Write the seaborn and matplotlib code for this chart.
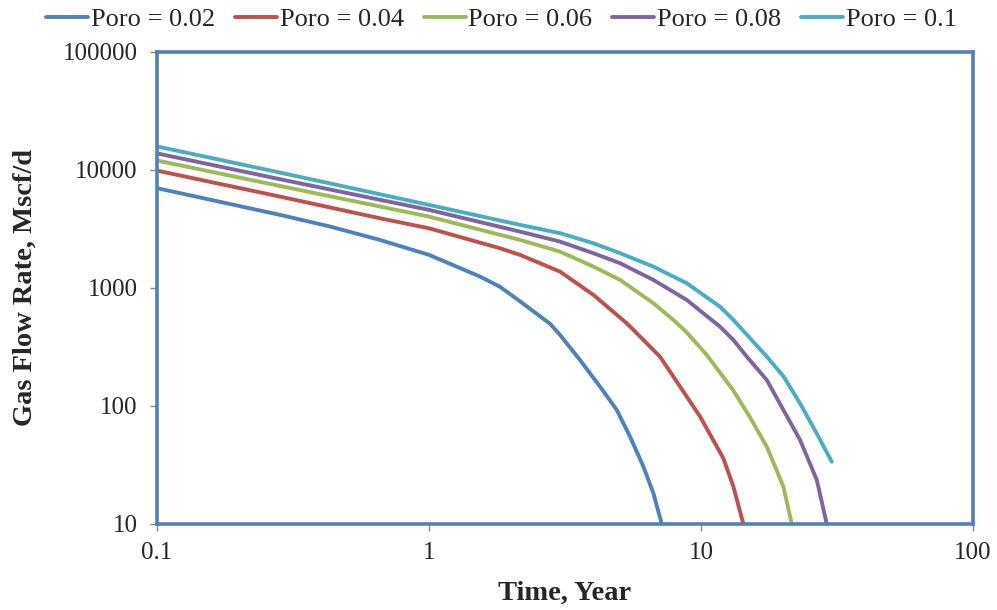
import numpy as np
import pandas as pd
import matplotlib
matplotlib.use("Agg")
import matplotlib.pyplot as plt
import seaborn as sns
from matplotlib.ticker import FixedLocator, FixedFormatter, NullLocator

# ---- data ----
labels = ["Poro = 0.02", "Poro = 0.04", "Poro = 0.06", "Poro = 0.08", "Poro = 0.1"]
colors = ["#4F81BD", "#C0504D", "#9BBB59", "#8064A2", "#4BACC6"]

t_02 = [0.1, 0.283, 0.433, 0.66, 1.0, 1.54, 1.82, 2.16, 2.79, 3.03, 3.59, 4.25, 4.90, 5.48, 6.14, 6.68, 7.17]
q_02 = [7000, 4160, 3310, 2550, 1905, 1247, 1025, 770, 495, 400, 245, 146, 92.5, 55, 30.6, 18.2, 10]

t_04 = [0.1, 0.283, 0.66, 1.0, 1.82, 2.16, 3.03, 4.02, 5.33, 5.64, 7.06, 8.37, 9.92, 12.08, 13.15, 14.31]
q_04 = [9860, 5940, 3890, 3200, 2170, 1905, 1374, 873, 502, 441, 262, 146, 81.2, 36, 20.7, 10]

t_06 = [0.1, 0.283, 1.0, 2.16, 3.03, 4.02, 5.04, 6.68, 7.91, 8.86, 10.5, 13.15, 15.14, 17.44, 20.08, 21.56]
q_06 = [12000, 7310, 4020, 2550, 2030, 1517, 1169, 742, 536, 420, 270, 135, 80, 45.2, 20.7, 10]

t_08 = [0.1, 0.283, 1.0, 2.16, 3.03, 4.02, 5.04, 6.68, 8.86, 11.74, 13.15, 14.72, 17.44, 23.12, 26.64, 28.98]
q_08 = [13800, 8340, 4580, 3000, 2470, 1968, 1620, 1169, 791, 470, 362, 262, 166, 51.5, 23.6, 10]

t_10 = [0.1, 0.283, 1.0, 2.16, 3.03, 4.02, 5.04, 6.68, 8.86, 11.74, 13.15, 17.44, 20.1, 23.12, 26.6, 30.23]
q_10 = [15800, 9490, 5050, 3420, 2910, 2390, 1968, 1515, 1096, 694, 536, 262, 178, 105, 58.7, 33.7]

series_t = [t_02, t_04, t_06, t_08, t_10]
series_q = [q_02, q_04, q_06, q_08, q_10]

frames = []
for lab, tt, qq in zip(labels, series_t, series_q):
    frames.append(pd.DataFrame({"Time": tt, "Rate": qq, "Series": lab}))
df = pd.concat(frames, ignore_index=True)

xticks = [0.1, 1, 10, 100]
xtick_labels = ["0.1", "1", "10", "100"]
yticks = [10, 100, 1000, 10000, 100000]
ytick_labels = ["10", "100", "1000", "10000", "100000"]

# ---- styling ----
sns.set_style("white")
plt.rcParams["font.family"] = ["Liberation Serif", "DejaVu Serif"]

fig = plt.figure(figsize=(9.97, 6.10), dpi=100)
ax = fig.add_axes([0.1575, 0.141, 0.8185, 0.774])

sns.lineplot(data=df, x="Time", y="Rate", hue="Series", hue_order=labels,
             palette=colors, linewidth=2.8, sort=False, estimator=None,
             ax=ax, legend=False)

ax.set_xscale("log")
ax.set_yscale("log")
ax.set_xlim(0.1, 100)
ax.set_ylim(10, 100000)

ax.xaxis.set_major_locator(FixedLocator(xticks))
ax.xaxis.set_major_formatter(FixedFormatter(xtick_labels))
ax.yaxis.set_major_locator(FixedLocator(yticks))
ax.yaxis.set_major_formatter(FixedFormatter(ytick_labels))
ax.xaxis.set_minor_locator(NullLocator())
ax.yaxis.set_minor_locator(NullLocator())

ax.tick_params(axis="both", which="major", direction="out", length=5, width=1,
               color="#868686", labelsize=18, bottom=True, left=True)
ax.tick_params(axis="x", pad=8)
ax.tick_params(axis="y", pad=9)

for s in ax.spines.values():
    s.set_visible(True)
    s.set_color("#4F81BD")
    s.set_linewidth(2.6)

ax.set_xlabel("Time, Year", fontsize=20.5, fontweight="bold", labelpad=12)
ax.set_ylabel("Gas Flow Rate, Mscf/d", fontsize=20.5, fontweight="bold", labelpad=18)

handles = [plt.Line2D([0], [0], color=c, lw=2.8) for c in colors]
fig.legend(handles, labels, loc="center", bbox_to_anchor=(0.503, 0.968), ncol=5,
           frameon=False, fontsize=19, handlelength=1.6, handletextpad=0.1,
           columnspacing=0.75, borderaxespad=0)

fig.savefig("out.png", dpi=100)
